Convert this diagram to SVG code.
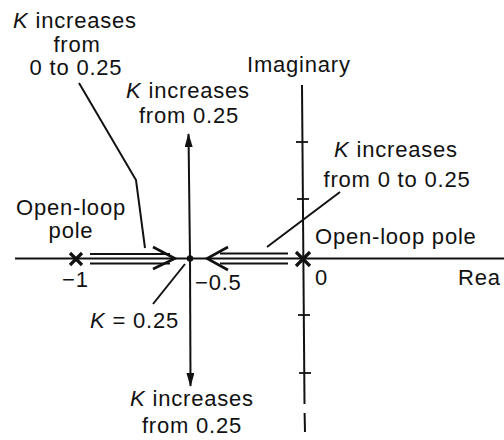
<svg xmlns="http://www.w3.org/2000/svg" width="504" height="440" viewBox="0 0 504 440">
<style>
text{font-family:"Liberation Sans",Arial,sans-serif;font-size:22px;fill:#111;letter-spacing:0.8px}
.m{text-anchor:middle}
.k{font-style:italic}
.ax{stroke:#111;stroke-width:2;fill:none}
.ln{stroke:#111;stroke-width:2;fill:none}
.dl{stroke:#111;stroke-width:2.2;fill:none}
.cv{stroke:#111;stroke-width:2.6;fill:none;stroke-linejoin:miter}
.tk{stroke:#111;stroke-width:1.8}
.x{stroke:#111;stroke-width:3.2}
</style>
<defs>
<marker id="ah2" viewBox="0 0 14 8" refX="13" refY="4" markerWidth="14" markerHeight="8" markerUnits="userSpaceOnUse" orient="auto">
<path d="M0,0 L14,4 L0,8 Z" fill="#111"/>
</marker>
</defs>
<g id="axes">
<line class="ax" x1="15" y1="258.5" x2="504" y2="258.5"/>
<line class="ax" x1="302" y1="85" x2="304.5" y2="404"/>
<line class="ax" x1="304.6" y1="413" x2="305" y2="432"/>
<line class="tk" x1="296" y1="142" x2="308" y2="142"/>
<line class="tk" x1="297" y1="199" x2="309" y2="199"/>
<line class="tk" x1="298" y1="315" x2="310" y2="315"/>
<line class="tk" x1="299" y1="373" x2="311" y2="373"/>
</g>
<g id="connectors">
<line class="ln" x1="190" y1="258" x2="188.5" y2="134" marker-end="url(#ah2)"/>
<line class="ln" x1="190" y1="258" x2="190.5" y2="386" marker-end="url(#ah2)"/>
<line class="dl" x1="90" y1="254" x2="170" y2="254"/>
<line class="dl" x1="90" y1="263.5" x2="170" y2="263.5"/>
<polyline class="cv" points="153,247 175,258.5 153,269"/>
<line class="dl" x1="220" y1="253.5" x2="288" y2="253.5"/>
<line class="dl" x1="220" y1="263.5" x2="288" y2="263.5"/>
<polyline class="cv" points="228,247 207,258.5 228,270"/>
<polyline class="ln" points="79,83 136,180 145,248"/>
<line class="ln" x1="340" y1="192" x2="267" y2="247"/>
<line class="ln" x1="185" y1="264" x2="153" y2="304"/>
</g>
<g id="pole-minus1">
<line class="x" x1="70" y1="253" x2="82" y2="265"/>
<line class="x" x1="82" y1="253" x2="70" y2="265"/>
</g>
<g id="pole-zero">
<line class="x" x1="296" y1="252" x2="310" y2="266"/>
<line class="x" x1="310" y1="252" x2="296" y2="266"/>
</g>
<g id="breakaway">
<circle cx="190" cy="258.5" r="3.2" fill="#111"/>
</g>
<g id="label-k-0-025-left">
<text class="m" x="75" y="28"><tspan class="k">K</tspan> increases</text>
<text class="m" x="77" y="52">from</text>
<text class="m" x="76" y="75">0 to 0.25</text>
</g>
<g id="label-k-up">
<text class="m" x="188" y="98"><tspan class="k">K</tspan> increases</text>
<text class="m" x="189" y="123">from 0.25</text>
</g>
<g id="label-imaginary">
<text x="247" y="72">Imaginary</text>
</g>
<g id="label-k-0-025-right">
<text class="m" x="396" y="157"><tspan class="k">K</tspan> increases</text>
<text class="m" x="397" y="187">from 0 to 0.25</text>
</g>
<g id="label-olp-left">
<text class="m" x="71" y="215">Open-loop</text>
<text class="m" x="71" y="238">pole</text>
</g>
<g id="label-olp-right">
<text x="315" y="244">Open-loop pole</text>
</g>
<g id="ticks-labels">
<text x="62" y="287">−1</text>
<text x="195" y="290">−0.5</text>
<text x="315" y="285">0</text>
<text x="458" y="285">Rea</text>
</g>
<g id="label-k025">
<text x="90" y="328"><tspan class="k">K</tspan> = 0.25</text>
</g>
<g id="label-k-down">
<text class="m" x="192" y="406"><tspan class="k">K</tspan> increases</text>
<text class="m" x="192" y="433">from 0.25</text>
</g>
</svg>
